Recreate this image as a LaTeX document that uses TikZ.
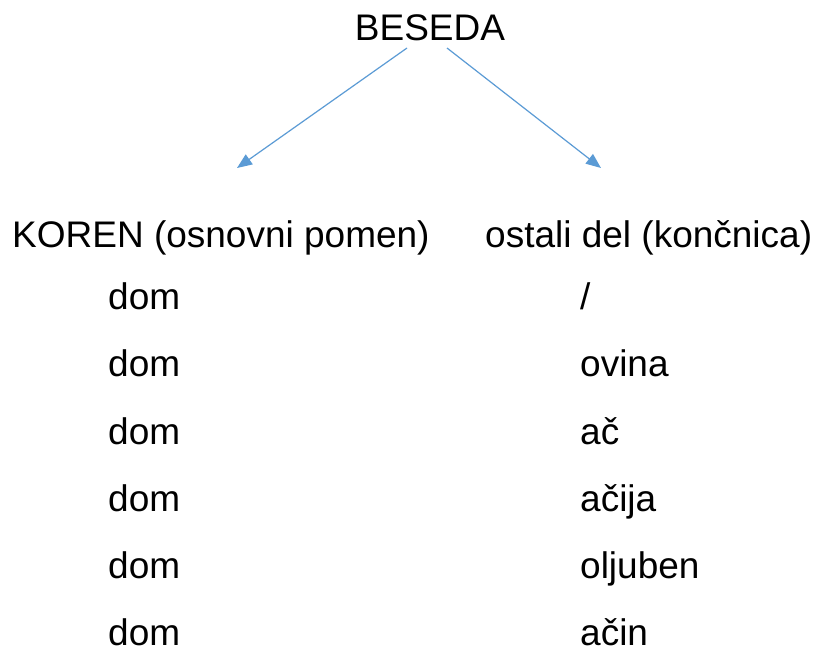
\documentclass[tikz,border=0pt]{standalone}
\usepackage{fontspec}
\setmainfont{Liberation Sans}
\usetikzlibrary{arrows.meta}
\definecolor{arrowblue}{HTML}{5B9BD5}
\tikzset{
  lbl/.style={anchor=base west, inner sep=0pt, font=\fontsize{37}{40}\selectfont},
  conn/.style={draw=arrowblue, line width=1.2pt, -{Triangle[length=15pt,width=12pt]}, arrowblue}
}
\begin{document}
\begin{tikzpicture}[x=1pt,y=-1pt]
\useasboundingbox[fill=white] (0,0) rectangle (819,648);
\node[lbl, anchor=base] (beseda) at (430,40) {BESEDA};
\node[lbl] (koren) at (12,247) {KOREN (osnovni pomen)};
\node[lbl] (ostali) at (485,247) {ostali del (končnica)};
\foreach \i/\y/\w in {1/309/{/},2/376/ovina,3/444/ač,4/511/ačija,5/578/oljuben,6/645/ačin}{
  \node[lbl] (l\i) at (108,\y) {dom};
  \node[lbl] (r\i) at (580,\y) {\w};
}
\coordinate (s1) at (407,48);
\coordinate (s2) at (447,48);
\coordinate (e1) at (237,168);
\coordinate (e2) at (601,168);
\draw[conn] (s1) -- (e1);
\draw[conn] (s2) -- (e2);
\end{tikzpicture}
\end{document}
